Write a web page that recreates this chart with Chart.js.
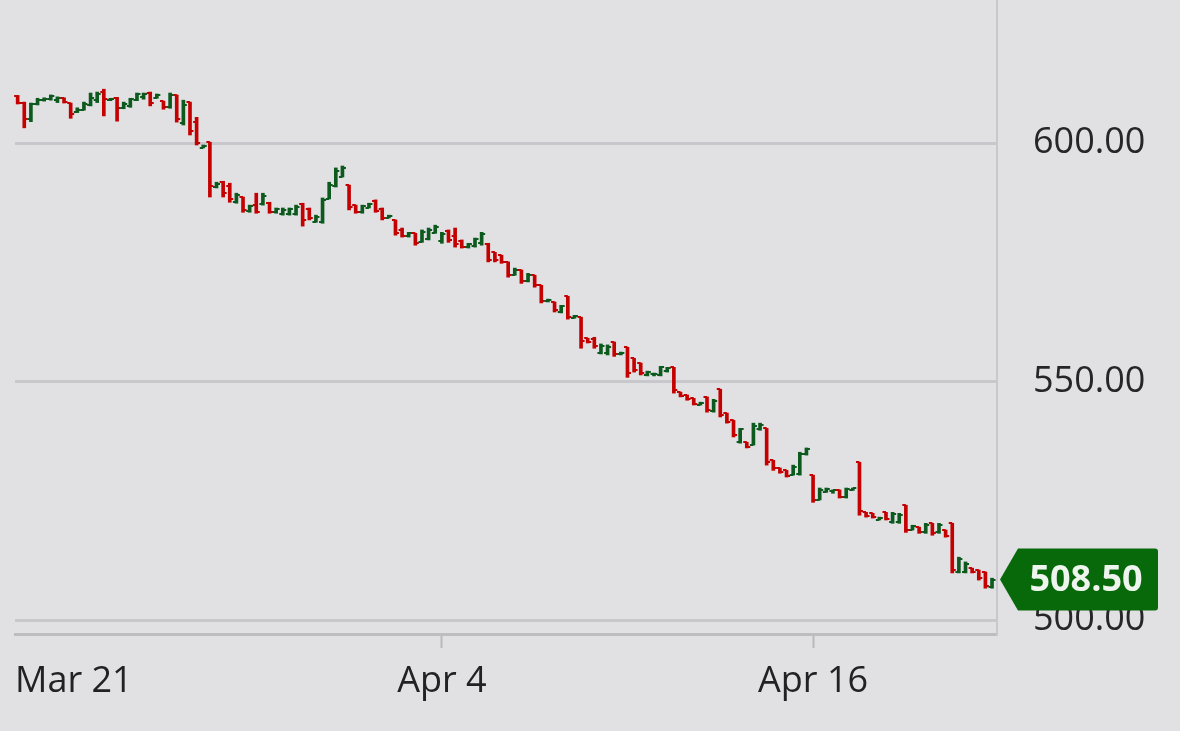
<!DOCTYPE html>
<html><head><meta charset="utf-8">
<script src="https://cdn.jsdelivr.net/npm/chart.js@4.4.1/dist/chart.umd.min.js"></script>
<style>html,body{margin:0;padding:0;background:#e1e1e4;}canvas{display:block;}</style>
</head><body>
<canvas id="c" width="1180" height="731"></canvas>
<script>
const opens = [
609.8,608.4,605.0,608.2,609.0,609.2,609.0,609.4,608.4,606.5,
607.0,608.0,609.0,610.8,609.0,609.4,607.3,607.8,609.0,609.6,
610.5,609.5,608.8,607.5,610.0,604.2,608.6,604.5,599.0,600.2,
590.8,591.8,591.0,587.6,588.7,585.8,587.0,587.2,587.5,585.5,
585.2,585.2,585.2,587.2,586.2,583.5,583.4,588.3,591.0,593.0,
591.2,587.0,585.5,586.5,587.8,586.2,584.4,583.9,581.8,580.5,
581.1,579.2,580.0,581.2,579.5,581.5,580.5,579.5,578.2,578.5,
579.0,578.8,577.1,576.5,575.0,572.4,573.4,571.0,572.3,570.2,
566.8,566.7,564.6,567.9,563.4,563.5,559.1,559.0,556.0,556.0,
558.3,555.8,557.2,554.9,553.9,551.4,551.5,551.4,552.2,553.0,
547.8,547.2,546.5,545.2,546.8,543.8,548.4,543.4,541.9,537.4,
537.3,536.8,540.0,540.2,533.5,531.9,531.4,530.4,530.6,534.8,
530.4,525.2,526.8,527.0,527.3,525.8,527.3,533.1,522.6,522.4,
521.1,522.6,520.5,520.6,524.1,519.0,519.5,518.4,520.3,518.4,
518.9,520.3,510.0,510.2,510.9,510.5,510.1,507.0];
const highs = [
610.0,608.6,608.4,609.4,609.5,610.1,609.7,609.5,608.4,607.4,
608.6,610.5,610.7,611.3,609.4,609.6,608.6,609.4,610.5,610.5,
610.7,610.3,608.8,610.5,610.1,609.0,608.6,605.4,599.6,600.2,
591.8,592.0,591.6,589.5,588.7,587.0,589.5,589.5,587.6,586.4,
586.4,586.4,587.0,587.4,586.4,584.9,588.5,591.8,594.8,595.2,
591.2,587.0,587.0,587.4,588.1,586.4,584.9,583.9,582.2,581.3,
581.1,581.8,582.2,582.8,581.3,581.8,582.2,579.7,579.0,580.1,
581.3,579.0,577.1,576.5,575.1,573.8,573.4,572.7,572.3,570.2,
567.3,566.7,566.0,567.9,563.9,563.5,559.1,559.3,557.9,557.7,
558.3,556.2,557.2,554.9,553.9,552.2,551.8,553.2,553.0,553.0,
547.8,547.2,546.5,545.7,546.8,546.3,548.4,543.4,541.9,540.2,
537.3,541.3,541.3,540.2,533.5,531.9,531.4,532.5,535.2,536.1,
530.4,527.7,527.7,527.3,527.3,527.7,527.7,533.1,522.6,522.4,
521.6,522.6,522.6,522.4,524.1,519.9,519.5,520.3,520.3,520.3,
518.9,520.3,513.2,512.2,510.9,510.5,510.1,508.8];
const lows = [
608.2,603.2,604.5,608.0,608.8,609.0,608.5,608.4,605.2,606.4,
606.9,607.8,608.5,605.7,608.9,604.6,607.2,607.5,608.9,609.2,
607.8,609.4,607.1,607.3,604.4,603.8,601.7,599.6,599.0,588.7,
590.6,588.7,587.6,587.4,585.5,585.5,585.3,587.0,585.3,585.3,
584.9,584.9,584.9,582.6,583.9,583.4,583.2,588.3,590.8,592.9,
586.0,585.3,585.3,586.4,585.5,583.9,584.3,580.7,580.3,580.3,
578.6,579.2,579.7,581.1,579.0,579.2,578.2,578.0,578.0,578.2,
578.6,575.1,575.1,574.8,571.9,572.3,570.6,570.9,569.8,566.5,
566.7,564.6,564.4,563.1,563.3,557.0,558.1,557.0,555.8,555.6,
555.3,555.6,550.9,552.0,551.4,551.2,551.2,551.2,552.0,547.6,
546.8,546.1,545.1,545.1,543.6,543.6,542.6,541.3,538.4,537.1,
536.1,536.7,539.8,532.5,531.4,530.8,530.0,530.4,530.4,534.6,
524.7,525.2,526.8,526.6,525.6,525.6,527.2,522.0,521.6,521.4,
521.0,521.0,520.3,520.3,518.4,518.9,518.2,518.2,517.8,518.2,
517.4,509.9,509.9,509.9,509.9,508.4,506.7,506.7];
const closes = [
608.4,605.0,608.2,609.0,609.2,609.8,609.4,608.6,606.0,607.0,
608.3,609.5,610.4,609.2,609.3,607.3,608.2,609.2,610.2,610.3,
608.5,610.0,607.5,610.0,605.0,608.0,602.5,600.0,599.5,591.0,
591.5,589.5,588.2,589.2,586.0,586.8,585.6,589.0,585.6,586.2,
586.0,586.2,586.6,583.8,584.2,584.6,588.0,591.2,594.2,594.8,
586.6,585.6,586.8,587.2,585.8,584.2,584.8,581.2,580.6,581.1,
579.0,581.3,581.8,582.5,581.0,579.6,578.8,578.2,578.8,579.8,
581.0,575.6,575.4,575.0,572.3,573.5,571.0,572.4,570.2,567.0,
567.2,565.0,565.8,563.6,563.8,558.5,558.3,557.4,557.5,557.3,
555.8,556.1,551.8,552.4,551.8,552.0,551.7,553.0,552.8,548.2,
547.0,546.3,545.4,545.6,544.0,546.0,543.0,541.6,538.8,540.0,
536.3,540.8,541.0,533.2,531.8,531.0,530.3,532.2,534.8,535.8,
525.2,527.3,527.5,527.2,525.8,527.4,527.6,522.8,521.8,521.6,
521.5,521.2,522.3,522.0,519.0,519.7,518.4,520.0,518.2,520.0,
517.6,510.6,512.8,511.8,510.2,508.8,507.2,508.5];
const xTickLabels = ['Mar 21', 'Apr 4', 'Apr 16'];
const xTickBars = [0, 64, 120];
const yTickValues = [500, 550, 600];

const UP = '#0d5a1f', DOWN = '#c40000';
const barColors = closes.map((c, i) => c >= opens[i] ? UP : DOWN);

const ohlcTicks = {
  id: 'ohlcTicks',
  afterDatasetsDraw(chart) {
    const ctx = chart.ctx, ys = chart.scales.y;
    const meta = chart.getDatasetMeta(0);
    ctx.save();
    ctx.lineWidth = 2;
    meta.data.forEach((el, i) => {
      const x = el.x, hw = el.width / 2;
      const yo = Math.round(ys.getPixelForValue(opens[i]));
      const yc = Math.round(ys.getPixelForValue(closes[i]));
      ctx.strokeStyle = barColors[i];
      ctx.beginPath();
      ctx.moveTo(x - hw - 2, yo); ctx.lineTo(x, yo);
      ctx.moveTo(x, yc); ctx.lineTo(x + hw + 2, yc);
      ctx.stroke();
    });
    ctx.restore();
  }
};

const priceTag = {
  id: 'priceTag',
  afterDraw(chart) {
    const ctx = chart.ctx, ys = chart.scales.y;
    const last = closes[closes.length - 1];
    const y = ys.getPixelForValue(last);
    const x0 = chart.chartArea.right + 3;
    const h = 31, w = 158, r = 3;
    ctx.save();
    ctx.fillStyle = '#08690a';
    ctx.beginPath();
    ctx.moveTo(x0, y);
    ctx.lineTo(x0 + 18, y - h);
    ctx.lineTo(x0 + w - r, y - h);
    ctx.quadraticCurveTo(x0 + w, y - h, x0 + w, y - h + r);
    ctx.lineTo(x0 + w, y + h - r);
    ctx.quadraticCurveTo(x0 + w, y + h, x0 + w - r, y + h);
    ctx.lineTo(x0 + 18, y + h);
    ctx.closePath();
    ctx.fill();
    ctx.fillStyle = '#eef5ee';
    ctx.font = 'bold 36px "Open Sans"';
    ctx.textAlign = 'center';
    ctx.textBaseline = 'middle';
    ctx.fillText(last.toFixed(2), x0 + 86, y + 1);
    ctx.restore();
  }
};

function noPad(scale) {
  scale.paddingTop = 0; scale.paddingBottom = 0;
  scale.paddingLeft = 0; scale.paddingRight = 0;
}

new Chart(document.getElementById('c'), {
  type: 'bar',
  data: {
    datasets: [{
      data: lows.map((l, i) => ({ x: i, y: [l, highs[i]] })),
      backgroundColor: barColors,
      borderWidth: 0,
      barThickness: 3,
      minBarLength: 2
    }]
  },
  options: {
    responsive: false,
    animation: false,
    devicePixelRatio: 1,
    layout: { padding: { left: 15, top: 0, right: 0, bottom: 0 }, autoPadding: false },
    plugins: { legend: { display: false }, tooltip: { enabled: false } },
    scales: {
      x: {
        type: 'linear',
        offset: false,
        min: -0.4,
        max: 147.75,
        afterBuildTicks(axis) {
          const t = xTickBars.map((v, i) => ({ value: i === 0 ? axis.min : v }));
          t.push({ value: axis.max });
          axis.ticks = t;
        },
        afterFit(scale) { scale.height = 97; noPad(scale); },
        ticks: {
          autoSkip: false, maxRotation: 0, minRotation: 0,
          align: 'inner',
          padding: 12,
          color: '#222222',
          font: { family: '"Open Sans"', size: 36 },
          callback: (v, idx) => xTickLabels[idx] ?? ''
        },
        grid: {
          display: true, drawOnChartArea: false, drawTicks: true, offset: false,
          tickLength: 14, tickWidth: 2,
          tickColor: (c) => (c.index === 0 || c.index === 3) ? 'rgba(0,0,0,0)' : '#b9b9bd'
        },
        border: { display: true, color: '#bdbdc1', width: 3 }
      },
      y: {
        position: 'right',
        min: 497.1,
        max: 630,
        afterBuildTicks(axis) { axis.ticks = yTickValues.map(v => ({ value: v })); },
        afterFit(scale) { scale.width = 183; noPad(scale); },
        ticks: {
          padding: 36,
          color: '#262626',
          font: { family: '"Open Sans"', size: 36 },
          callback: (v) => Number(v).toFixed(2)
        },
        grid: { color: '#c8c8cc', lineWidth: 3, drawTicks: false },
        border: { display: true, color: '#c8c8cc', width: 2 }
      }
    }
  },
  plugins: [ohlcTicks, priceTag]
});
</script>
</body></html>
